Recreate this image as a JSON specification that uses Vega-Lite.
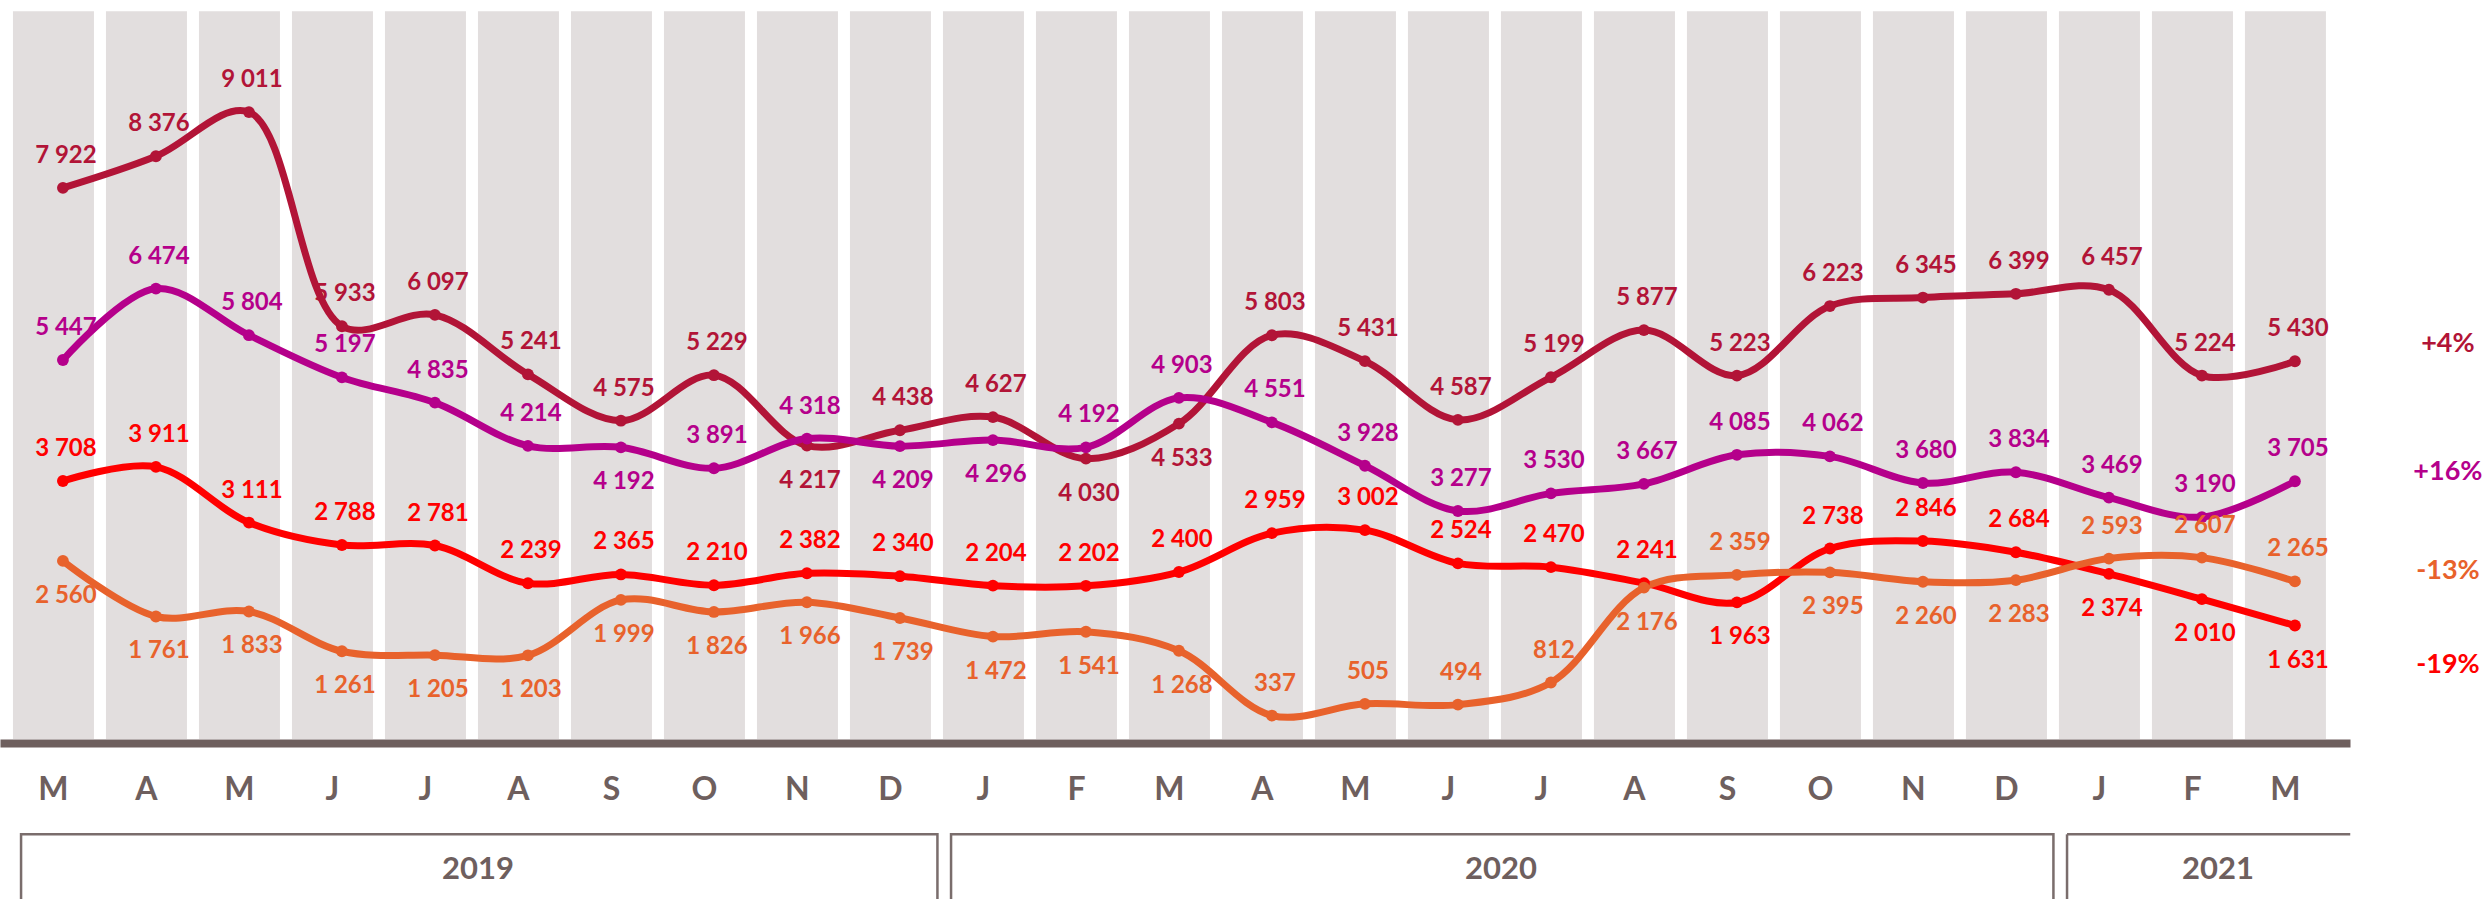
{
  "$schema": "https://vega.github.io/schema/vega-lite/v6.json",
  "width": 2350,
  "height": 734,
  "autosize": {"type": "none"},
  "padding": {"left": 0, "top": 5, "right": 134, "bottom": 160},
  "background": "white",
  "config": {
    "view": {"stroke": null},
    "locale": {"number": {"decimal": ",", "thousands": " ", "grouping": [3], "currency": ["", " €"]}},
    "text": {"font": "Lato", "fontWeight": "bold"}
  },
  "datasets": {
    "months": [
      {"m": "2019-03"}, {"m": "2019-04"}, {"m": "2019-05"}, {"m": "2019-06"}, {"m": "2019-07"},
      {"m": "2019-08"}, {"m": "2019-09"}, {"m": "2019-10"}, {"m": "2019-11"}, {"m": "2019-12"},
      {"m": "2020-01"}, {"m": "2020-02"}, {"m": "2020-03"}, {"m": "2020-04"}, {"m": "2020-05"},
      {"m": "2020-06"}, {"m": "2020-07"}, {"m": "2020-08"}, {"m": "2020-09"}, {"m": "2020-10"},
      {"m": "2020-11"}, {"m": "2020-12"}, {"m": "2021-01"}, {"m": "2021-02"}, {"m": "2021-03"}
    ],
    "years": [
      {"year": "2019", "start": "2019-03", "end": "2019-12", "mid": "2019-08"},
      {"year": "2020", "start": "2020-01", "end": "2020-12", "mid": "2020-07"},
      {"year": "2021", "start": "2021-01", "end": "2021-03", "mid": "2021-02"}
    ],
    "ends": [
      {"s": "S1", "m": "2021-03", "pct": "+4%", "v": 5675},
      {"s": "S2", "m": "2021-03", "pct": "+16%", "v": 3836},
      {"s": "S4", "m": "2021-03", "pct": "-13%", "v": 2414},
      {"s": "S3", "m": "2021-03", "pct": "-19%", "v": 1063}
    ],
    "pts": [
      {"s": "S1", "m": "2019-03", "v": 7922}, {"s": "S1", "m": "2019-04", "v": 8376}, {"s": "S1", "m": "2019-05", "v": 9011},
      {"s": "S1", "m": "2019-06", "v": 5933}, {"s": "S1", "m": "2019-07", "v": 6097}, {"s": "S1", "m": "2019-08", "v": 5241},
      {"s": "S1", "m": "2019-09", "v": 4575}, {"s": "S1", "m": "2019-10", "v": 5229}, {"s": "S1", "m": "2019-11", "v": 4217},
      {"s": "S1", "m": "2019-12", "v": 4438}, {"s": "S1", "m": "2020-01", "v": 4627}, {"s": "S1", "m": "2020-02", "v": 4030},
      {"s": "S1", "m": "2020-03", "v": 4533}, {"s": "S1", "m": "2020-04", "v": 5803}, {"s": "S1", "m": "2020-05", "v": 5431},
      {"s": "S1", "m": "2020-06", "v": 4587}, {"s": "S1", "m": "2020-07", "v": 5199}, {"s": "S1", "m": "2020-08", "v": 5877},
      {"s": "S1", "m": "2020-09", "v": 5223}, {"s": "S1", "m": "2020-10", "v": 6223}, {"s": "S1", "m": "2020-11", "v": 6345},
      {"s": "S1", "m": "2020-12", "v": 6399}, {"s": "S1", "m": "2021-01", "v": 6457}, {"s": "S1", "m": "2021-02", "v": 5224},
      {"s": "S1", "m": "2021-03", "v": 5430},
      {"s": "S2", "m": "2019-03", "v": 5447}, {"s": "S2", "m": "2019-04", "v": 6474}, {"s": "S2", "m": "2019-05", "v": 5804},
      {"s": "S2", "m": "2019-06", "v": 5197}, {"s": "S2", "m": "2019-07", "v": 4835}, {"s": "S2", "m": "2019-08", "v": 4214},
      {"s": "S2", "m": "2019-09", "v": 4192}, {"s": "S2", "m": "2019-10", "v": 3891}, {"s": "S2", "m": "2019-11", "v": 4318},
      {"s": "S2", "m": "2019-12", "v": 4209}, {"s": "S2", "m": "2020-01", "v": 4296}, {"s": "S2", "m": "2020-02", "v": 4192},
      {"s": "S2", "m": "2020-03", "v": 4903}, {"s": "S2", "m": "2020-04", "v": 4551}, {"s": "S2", "m": "2020-05", "v": 3928},
      {"s": "S2", "m": "2020-06", "v": 3277}, {"s": "S2", "m": "2020-07", "v": 3530}, {"s": "S2", "m": "2020-08", "v": 3667},
      {"s": "S2", "m": "2020-09", "v": 4085}, {"s": "S2", "m": "2020-10", "v": 4062}, {"s": "S2", "m": "2020-11", "v": 3680},
      {"s": "S2", "m": "2020-12", "v": 3834}, {"s": "S2", "m": "2021-01", "v": 3469}, {"s": "S2", "m": "2021-02", "v": 3190},
      {"s": "S2", "m": "2021-03", "v": 3705},
      {"s": "S3", "m": "2019-03", "v": 3708}, {"s": "S3", "m": "2019-04", "v": 3911}, {"s": "S3", "m": "2019-05", "v": 3111},
      {"s": "S3", "m": "2019-06", "v": 2788}, {"s": "S3", "m": "2019-07", "v": 2781}, {"s": "S3", "m": "2019-08", "v": 2239},
      {"s": "S3", "m": "2019-09", "v": 2365}, {"s": "S3", "m": "2019-10", "v": 2210}, {"s": "S3", "m": "2019-11", "v": 2382},
      {"s": "S3", "m": "2019-12", "v": 2340}, {"s": "S3", "m": "2020-01", "v": 2204}, {"s": "S3", "m": "2020-02", "v": 2202},
      {"s": "S3", "m": "2020-03", "v": 2400}, {"s": "S3", "m": "2020-04", "v": 2959}, {"s": "S3", "m": "2020-05", "v": 3002},
      {"s": "S3", "m": "2020-06", "v": 2524}, {"s": "S3", "m": "2020-07", "v": 2470}, {"s": "S3", "m": "2020-08", "v": 2241},
      {"s": "S3", "m": "2020-09", "v": 1963}, {"s": "S3", "m": "2020-10", "v": 2738}, {"s": "S3", "m": "2020-11", "v": 2846},
      {"s": "S3", "m": "2020-12", "v": 2684}, {"s": "S3", "m": "2021-01", "v": 2374}, {"s": "S3", "m": "2021-02", "v": 2010},
      {"s": "S3", "m": "2021-03", "v": 1631},
      {"s": "S4", "m": "2019-03", "v": 2560}, {"s": "S4", "m": "2019-04", "v": 1761}, {"s": "S4", "m": "2019-05", "v": 1833},
      {"s": "S4", "m": "2019-06", "v": 1261}, {"s": "S4", "m": "2019-07", "v": 1205}, {"s": "S4", "m": "2019-08", "v": 1203},
      {"s": "S4", "m": "2019-09", "v": 1999}, {"s": "S4", "m": "2019-10", "v": 1826}, {"s": "S4", "m": "2019-11", "v": 1966},
      {"s": "S4", "m": "2019-12", "v": 1739}, {"s": "S4", "m": "2020-01", "v": 1472}, {"s": "S4", "m": "2020-02", "v": 1541},
      {"s": "S4", "m": "2020-03", "v": 1268}, {"s": "S4", "m": "2020-04", "v": 337}, {"s": "S4", "m": "2020-05", "v": 505},
      {"s": "S4", "m": "2020-06", "v": 494}, {"s": "S4", "m": "2020-07", "v": 812}, {"s": "S4", "m": "2020-08", "v": 2176},
      {"s": "S4", "m": "2020-09", "v": 2359}, {"s": "S4", "m": "2020-10", "v": 2395}, {"s": "S4", "m": "2020-11", "v": 2260},
      {"s": "S4", "m": "2020-12", "v": 2283}, {"s": "S4", "m": "2021-01", "v": 2593}, {"s": "S4", "m": "2021-02", "v": 2607},
      {"s": "S4", "m": "2021-03", "v": 2265}
    ]
  },
  "layer": [
    {
      "data": {"name": "months"},
      "mark": {"type": "bar", "color": "#E2DEDE"},
      "encoding": {
        "x": {
          "field": "m", "type": "ordinal",
          "scale": {"type": "band", "paddingInner": 0.129, "paddingOuter": 0.199, "align": 0.35},
          "axis": {
            "title": null, "ticks": false, "tickSize": 0, "offset": 4,
            "domainColor": "#6E5F5E", "domainWidth": 8, "bandPosition": 0.617,
            "labelAngle": 0, "labelFont": "Lato", "labelFontWeight": "bold", "labelFontSize": 32,
            "labelColor": "#6E5F5E", "labelPadding": 31, "grid": false,
            "labelExpr": "['J','F','M','A','M','J','J','A','S','O','N','D'][toNumber(substring(datum.value,5,7))-1]"
          }
        },
        "y": {"datum": 10460, "type": "quantitative", "scale": {"domain": [0, 10550], "nice": false, "zero": true}, "axis": null},
        "y2": {"datum": 0}
      }
    },
    {
      "data": {"name": "years"},
      "transform": [{"filter": "datum.year != '2021'"}],
      "mark": {"type": "rect", "fill": null, "fillOpacity": 0, "stroke": "#7A6D6C", "strokeWidth": 2.5},
      "encoding": {
        "x": {"field": "start", "type": "ordinal", "bandPosition": 0.1},
        "x2": {"field": "end", "bandPosition": 1.08},
        "y": {"datum": -1370, "type": "quantitative", "axis": null},
        "y2": {"datum": -2700}
      }
    },
    {
      "data": {"name": "years"},
      "transform": [{"filter": "datum.year == '2021'"}],
      "mark": {"type": "rule", "stroke": "#7A6D6C", "strokeWidth": 2.5},
      "encoding": {
        "x": {"field": "start", "type": "ordinal", "bandPosition": 0.1},
        "x2": {"field": "end", "bandPosition": 1.3},
        "y": {"datum": -1370, "type": "quantitative", "axis": null}
      }
    },
    {
      "data": {"name": "years"},
      "transform": [{"filter": "datum.year == '2021'"}],
      "mark": {"type": "rule", "stroke": "#7A6D6C", "strokeWidth": 2.5},
      "encoding": {
        "x": {"field": "start", "type": "ordinal", "bandPosition": 0.1},
        "y": {"datum": -1370, "type": "quantitative", "axis": null},
        "y2": {"datum": -2700}
      }
    },
    {
      "data": {"name": "years"},
      "transform": [{"filter": "datum.year != '2021'"}],
      "mark": {"type": "text", "fontSize": 31, "color": "#6E5F5E", "baseline": "middle", "align": "center"},
      "encoding": {
        "x": {"field": "mid", "type": "ordinal", "bandPosition": 0},
        "y": {"datum": -1885, "type": "quantitative", "axis": null},
        "text": {"field": "year"}
      }
    },
    {
      "data": {"name": "years"},
      "transform": [{"filter": "datum.year == '2021'"}],
      "mark": {"type": "text", "fontSize": 31, "color": "#6E5F5E", "baseline": "middle", "align": "center"},
      "encoding": {
        "x": {"field": "mid", "type": "ordinal", "bandPosition": 0.815},
        "y": {"datum": -1885, "type": "quantitative", "axis": null},
        "text": {"field": "year"}
      }
    },
    {
      "data": {"name": "pts"},
      "mark": {"type": "line", "interpolate": "catmull-rom", "strokeWidth": 7, "strokeCap": "round"},
      "encoding": {
        "x": {"field": "m", "type": "ordinal", "bandPosition": 0.617},
        "y": {"field": "v", "type": "quantitative", "axis": null},
        "color": {"field": "s", "type": "nominal", "legend": null,
          "scale": {"domain": ["S1", "S2", "S3", "S4"], "range": ["#B21437", "#B5008B", "#FF0000", "#E8622C"]}}
      }
    },
    {
      "data": {"name": "pts"},
      "mark": {"type": "point", "filled": true, "size": 140, "opacity": 1, "shape": "circle"},
      "encoding": {
        "x": {"field": "m", "type": "ordinal", "bandPosition": 0.617},
        "y": {"field": "v", "type": "quantitative", "axis": null},
        "color": {"field": "s", "type": "nominal", "legend": null}
      }
    },
    {
      "data": {"name": "pts"},
      "transform": [{"filter": "!(datum.s == 'S4' ? indexof(['2020-04','2020-05','2020-06','2020-07','2020-09','2021-01','2021-02','2021-03'], datum.m) < 0 : indexof(['S1|2019-11','S1|2020-02','S1|2020-03','S2|2019-09','S2|2019-12','S2|2020-01','S3|2020-09','S3|2021-01','S3|2021-02','S3|2021-03'], datum.s + '|' + datum.m) >= 0)"}],
      "mark": {"type": "text", "fontSize": 24, "baseline": "middle", "align": "center", "dy": -32, "dx": 3},
      "encoding": {
        "x": {"field": "m", "type": "ordinal", "bandPosition": 0.617},
        "y": {"field": "v", "type": "quantitative", "axis": null},
        "text": {"field": "v", "type": "quantitative", "format": ",d"},
        "color": {"field": "s", "type": "nominal", "legend": null}
      }
    },
    {
      "data": {"name": "pts"},
      "transform": [{"filter": "datum.s == 'S4' ? indexof(['2020-04','2020-05','2020-06','2020-07','2020-09','2021-01','2021-02','2021-03'], datum.m) < 0 : indexof(['S1|2019-11','S1|2020-02','S1|2020-03','S2|2019-09','S2|2019-12','S2|2020-01','S3|2020-09','S3|2021-01','S3|2021-02','S3|2021-03'], datum.s + '|' + datum.m) >= 0"}],
      "mark": {"type": "text", "fontSize": 24, "baseline": "middle", "align": "center", "dy": 35, "dx": 3},
      "encoding": {
        "x": {"field": "m", "type": "ordinal", "bandPosition": 0.617},
        "y": {"field": "v", "type": "quantitative", "axis": null},
        "text": {"field": "v", "type": "quantitative", "format": ",d"},
        "color": {"field": "s", "type": "nominal", "legend": null}
      }
    },
    {
      "data": {"name": "ends"},
      "mark": {"type": "text", "fontSize": 27, "baseline": "middle", "align": "center", "dx": 153},
      "encoding": {
        "x": {"field": "m", "type": "ordinal", "bandPosition": 0.617},
        "y": {"field": "v", "type": "quantitative", "axis": null},
        "text": {"field": "pct"},
        "color": {"field": "s", "type": "nominal", "legend": null}
      }
    }
  ]
}
